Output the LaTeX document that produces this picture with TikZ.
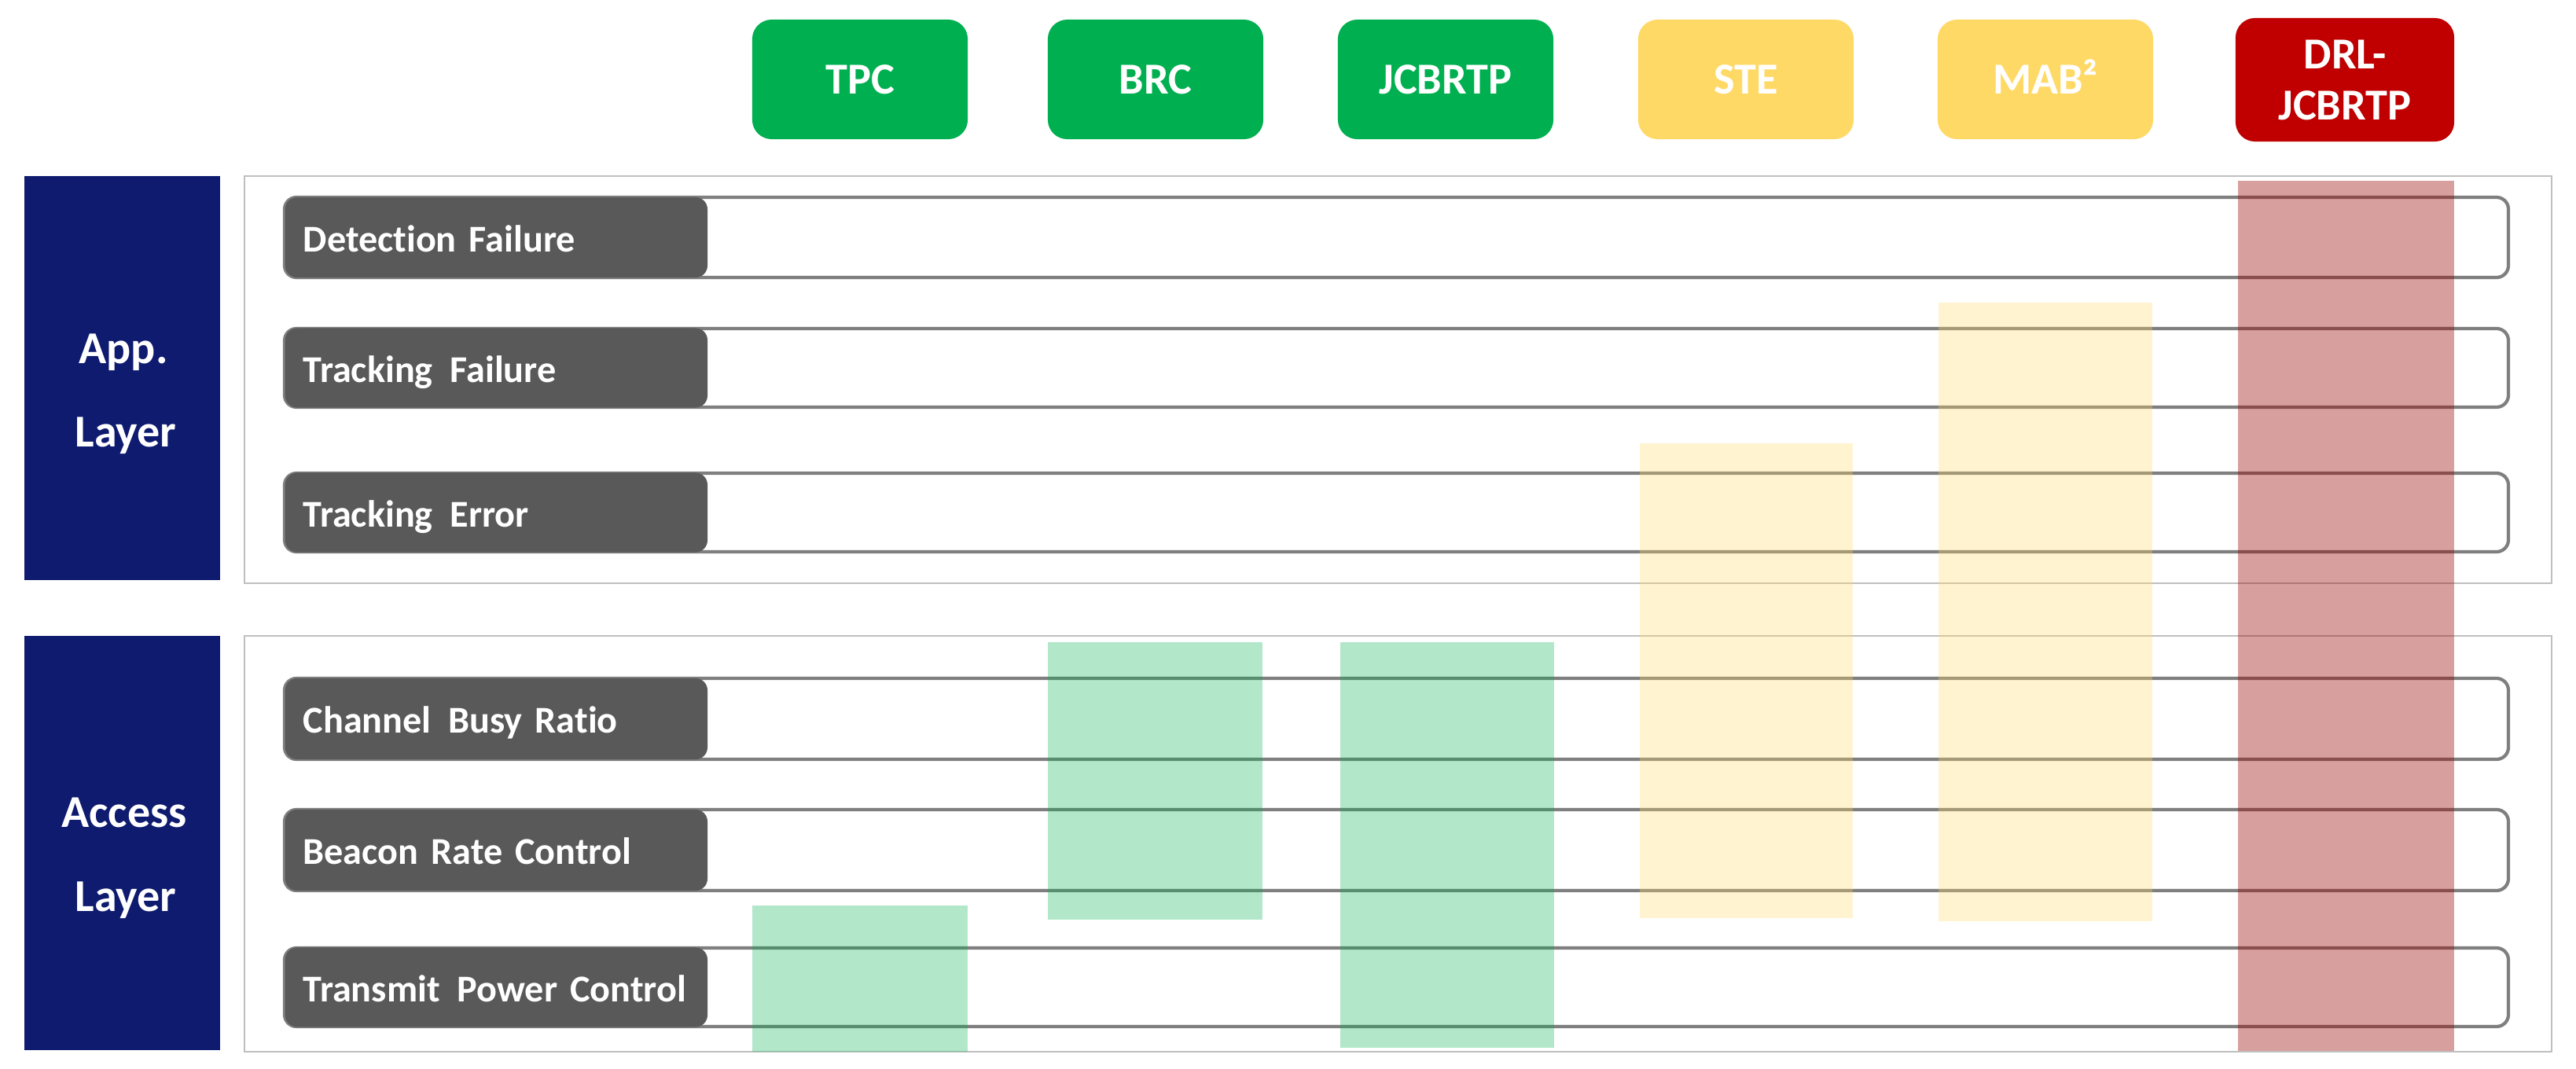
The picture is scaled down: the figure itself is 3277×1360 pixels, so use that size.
\documentclass[tikz,border=0pt]{standalone}
\usepackage{fontspec}
\setmainfont{Carlito}[Ligatures=NoCommon]
\definecolor{navy}{HTML}{0E1B6F}
\definecolor{lblgray}{HTML}{595959}
\definecolor{rowgray}{HTML}{7F7F7F}
\definecolor{boxgray}{HTML}{BFBFBF}
\definecolor{hgreen}{HTML}{00B050}
\definecolor{hyellow}{HTML}{FFD966}
\definecolor{hred}{HTML}{C00000}
\definecolor{colred}{RGB}{154,0,0}
\newcommand{\wsp}{\hspace{0.12em} }
\tikzset{
  sectbox/.style={draw=boxgray, line width=0.6pt, fill=white},
  layerbox/.style={fill=navy},
  layertext/.style={anchor=base, text=white, inner sep=0pt, font=\fontsize{16.5}{20}\selectfont\bfseries},
  rowline/.style={draw=rowgray, line width=1.2pt, rounded corners=4.3pt},
  lblbox/.style={fill=lblgray, rounded corners=4.3pt, anchor=west, minimum width=5.37cm,
    minimum height=1.01cm, inner xsep=2.3mm, inner ysep=0pt, text width=49.1mm, align=left,
    text=white, font=\fontsize{13.7}{16}\selectfont\bfseries, text height=10.5pt, text depth=0pt},
  hdr/.style={rounded corners=7pt, minimum width=2.74cm, minimum height=1.52cm, text=white,
    inner sep=0pt, align=center, font=\fontsize{16}{18.5}\selectfont\bfseries},
  hdrone/.style={hdr, text height=10.3pt, text depth=0pt},
  colgreen/.style={fill=hgreen, fill opacity=0.3},
  colyellow/.style={fill=hyellow, fill opacity=0.3},
  colred/.style={fill=colred, fill opacity=0.375},
}
\begin{document}
\begin{tikzpicture}[x=0.01cm,y=-0.01cm]
\useasboundingbox (0,0) rectangle (3277,1360);
\fill[white] (0,0) rectangle (3277,1360);

% section frames
\draw[sectbox] (311,224) rectangle (3246,742);
\draw[sectbox] (311,809) rectangle (3246,1338);

% layer boxes
\fill[layerbox] (31,224) rectangle (280,738);
\fill[layerbox] (31,809) rectangle (280,1336);
\node[layertext] (appA) at (157,462) {App.};
\node[layertext] (appB) at (160,568) {Layer};
\node[layertext] (accA) at (158,1052) {Access};
\node[layertext] (accB) at (160,1159) {Layer};

% rows
\draw[rowline] (362,251) rectangle (3191,353);
\draw[rowline] (362,418) rectangle (3191,518);
\draw[rowline] (362,602) rectangle (3191,702);
\draw[rowline] (362,863) rectangle (3191,966);
\draw[rowline] (362,1030) rectangle (3191,1133);
\draw[rowline] (362,1206) rectangle (3191,1306);

\node[lblbox, minimum height=1.02cm] (lDF)  at (362,302)    {Detection Failure};
\node[lblbox] (lTF)  at (362,468)    {Tracking\wsp Failure};
\node[lblbox] (lTE)  at (362,652)    {Tracking\wsp Error};
\node[lblbox, minimum height=1.03cm] (lCBR) at (362,914.5)  {Channel\wsp Busy Ratio};
\node[lblbox, minimum height=1.03cm] (lBRC) at (362,1081.5) {Beacon Rate Control};
\node[lblbox] (lTPC) at (362,1256)   {Transmit\wsp Power Control};

% columns
\fill[colgreen]  (957,1152) rectangle (1231,1338);
\fill[colgreen]  (1333,817) rectangle (1606,1170);
\fill[colgreen]  (1705,817) rectangle (1977,1333);
\fill[colyellow] (2086,564) rectangle (2357,1168);
\fill[colyellow] (2466,385) rectangle (2738,1172);
\fill[colred]    (2847,230) rectangle (3122,1337);

% headers
\node[hdrone, fill=hgreen]  (hTPC) at (1094,101) {TPC};
\node[hdrone, fill=hgreen]  (hBRC) at (1470,101) {BRC};
\node[hdrone, fill=hgreen]  (hJCB) at (1839,101) {JCBRTP};
\node[hdrone, fill=hyellow] (hSTE) at (2221,101) {STE};
\node[hdrone, fill=hyellow] (hMAB) at (2602,101) {MAB²};
\node[hdr, fill=hred, minimum width=2.78cm, minimum height=1.57cm] (hDRL) at (2983,101.5) {DRL-\\JCBRTP};
\end{tikzpicture}
\end{document}
